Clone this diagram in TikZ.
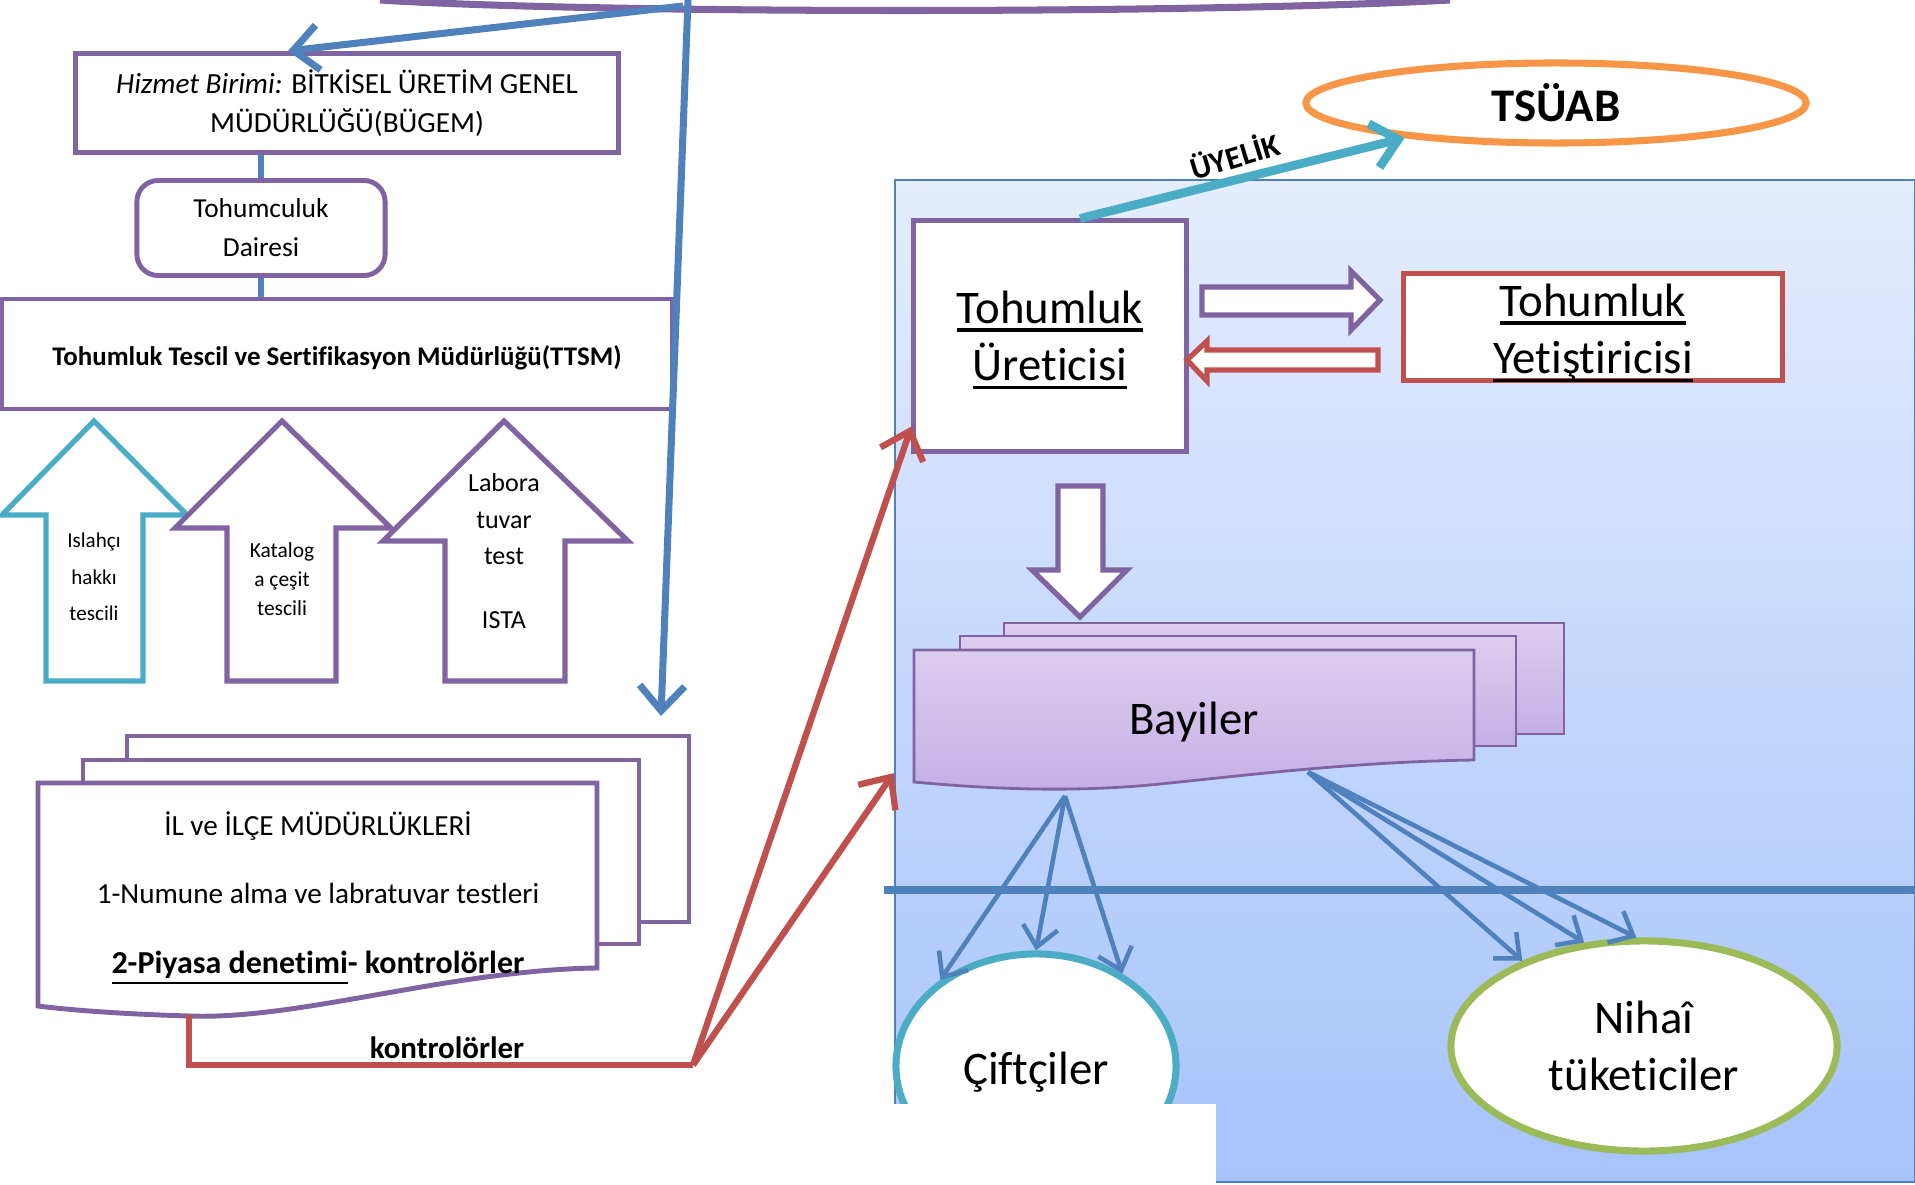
\documentclass[tikz,border=0pt]{standalone}
\usepackage{fontspec}
\setmainfont{Carlito}[Ligatures=CommonOff]
\newcommand{\altciz}[1]{\leavevmode\setbox0=\hbox{#1}\rlap{\rule[-2.4pt]{\wd0}{1pt}}\box0}
\usetikzlibrary{shapes.geometric,arrows.meta}
\definecolor{mor}{HTML}{8064A2}
\definecolor{mavi}{HTML}{4F81BD}
\definecolor{kirmizi}{HTML}{C0504D}
\definecolor{turkuaz}{HTML}{4BACC6}
\definecolor{turuncu}{HTML}{F79646}
\definecolor{yesil}{HTML}{9BBB59}
\definecolor{acikmavi}{HTML}{E4EDFD}
\definecolor{koyumavi}{HTML}{A6C3FB}
\definecolor{acikmor}{HTML}{DCCDEE}
\definecolor{koyumor}{HTML}{C4AFE6}
\begin{document}
\begin{tikzpicture}[x=0.01cm, y=-0.01cm]
		\tikzstyle{kutu}=[draw=mor,line width=1.4pt,fill=white,inner sep=0pt]
		\tikzstyle{kucuk}=[font=\fontsize{8.3}{11.1}\selectfont,align=center]
		\tikzstyle{buyuk}=[font=\fontsize{13.3}{16.3}\selectfont,align=center]
		\tikzstyle{ok}=[line width=2pt,-{Straight Barb[length=2.5mm,width=4.5mm]}]
		\tikzstyle{ince}=[mavi,line width=1.3pt,-{Straight Barb[length=2mm,width=3.5mm]}]
		\tikzstyle{blok}=[line width=1.5pt,fill=white,line join=miter]
		\tikzstyle{bayistil}=[draw=mor,line width=0.8pt,top color=acikmor,bottom color=koyumor]
		\useasboundingbox (0,0) rectangle (1915,1185);
		\draw[mor,line width=2pt] (380,0) .. controls (600,14) and (1200,14) .. (1450,0);
		\node[draw=mavi,line width=0.6pt,top color=acikmavi,bottom color=koyumavi,minimum width=10.2cm,minimum height=10.02cm,inner sep=0pt](alan)at(1405,681){};
		\node[kutu,kucuk,minimum width=5.42cm,minimum height=0.99cm](bugem)at(347,103){\textit{Hizmet Birimi:} BİTKİSEL ÜRETİM GENEL\\MÜDÜRLÜĞÜ(BÜGEM)};
		\node[kutu,kucuk,font=\fontsize{7.8}{11.1}\selectfont,rounded corners=6pt,minimum width=2.48cm,minimum height=0.95cm](daire)at(261,228){Tohumculuk\\Dairesi};
		\node[kutu,minimum width=6.7cm,minimum height=1.1cm,label={[font=\bfseries\fontsize{7.65}{10}\selectfont,yshift=-0.04cm]center:Tohumluk Tescil ve Sertifikasyon Müdürlüğü(TTSM)}](ttsm)at(337,354){};
		\draw[mavi,line width=1.5pt] (bugem.south -| daire.north) -- (daire.north);
		\draw[mavi,line width=1.5pt] (daire.south) -- (daire.south |- ttsm.north);
		\draw[blok,draw=turkuaz] (94,421) -- (187,515) -- (143,515) -- (143,681) -- (46,681) -- (46,515) -- (2,515) -- cycle;
		\draw[blok,draw=mor] (282,421) -- (391,528) -- (336,528) -- (336,681) -- (227,681) -- (227,528) -- (175,528) -- cycle;
		\draw[blok,draw=mor] (504,421) -- (628,541) -- (565,541) -- (565,681) -- (445,681) -- (445,541) -- (383,541) -- cycle;
		\node[align=center,font=\fontsize{6}{10.4}\selectfont](islah)at(94,577){Islahçı\\hakkı\\tescili};
		\node[align=center,font=\fontsize{6.1}{8.3}\selectfont](katalog)at(282,579){Katalog\\a çeşit\\tescili};
		\node[align=center,font=\fontsize{7.4}{10.4}\selectfont](labora)at(504,551){Labora\\tuvar\\test\\[7.7pt]ISTA};
		\draw[kutu] (127,736) rectangle (689,922);
		\draw[kutu] (83,760) rectangle (639,944);
		\draw[kutu] (38,783) -- (597,783) -- (597,968) .. controls (450,970) and (300,1020) .. (190,1016) .. controls (120,1014) and (70,1010) .. (38,1006) -- cycle;
		\node[kucuk](il1)at(318,826){İL ve İLÇE MÜDÜRLÜKLERİ};
		\node[kucuk](il2)at(318,893){1-Numune alma ve labratuvar testleri};
		\node[kucuk,font=\bfseries\fontsize{9.1}{11.1}\selectfont](il3)at(318,968){\underline{2-Piyasa denetimi}- kontrolörler};
		\coordinate (ust) at (688,0);
		\coordinate (catal) at (683,6);
		\coordinate (ilust) at (661,716);
		\coordinate (ilalt) at (189,1015);
		\coordinate (kout) at (693,1065);
		\draw[ok,mavi] (ust) -- (ilust);
		\draw[ok,mavi] (catal) -- ([xshift=-0.59cm]bugem.north);
		\node[font=\bfseries\fontsize{8.8}{10}\selectfont](kontrol)at(447,1048){kontrolörler};
		\node[kutu,minimum width=2.72cm,minimum height=2.3cm,label={[buyuk,yshift=-0.04cm]center:\altciz{Tohumluk}\\\altciz{Üreticisi}}](uret)at(1050,336){};
		\node[kutu,draw=kirmizi,minimum width=3.79cm,minimum height=1.07cm,label={[buyuk,yshift=-0.06cm]center:\altciz{Tohumluk}\\\altciz{Yetiştiricisi}}](yetis)at(1593,327){};
		\node[draw=turuncu,line width=2pt,ellipse,fill=white,inner sep=0pt,minimum width=5cm,minimum height=0.8cm,font=\bfseries\fontsize{13.3}{16}\selectfont](tsuab)at(1556,103){TSÜAB};
		\draw[blok,draw=mor] (1202,287) -- (1351,287) -- (1351,271) -- (1380,300) -- (1351,330) -- (1351,315) -- (1202,315) -- cycle;
		\draw[blok,draw=kirmizi] (1378,350) -- (1207,350) -- (1207,341) -- (1187,360) -- (1207,381) -- (1207,370) -- (1378,370) -- cycle;
		\draw[blok,draw=mor] (1058,486) -- (1103,486) -- (1103,570) -- (1127,570) -- (1080,617) -- (1032,570) -- (1058,570) -- cycle;
		\draw[bayistil] (1004,623) rectangle (1564,734);
		\draw[bayistil] (960,636) rectangle (1516,746);
		\draw[bayistil] (914,650) -- (1474,650) -- (1474,760) .. controls (1350,762) and (1250,775) .. (1150,785) .. controls (1060,793) and (980,788) .. (914,782) -- cycle;
		\node[buyuk](bayi)at(1194,722){Bayiler};
		\node[draw=turkuaz,line width=2pt,ellipse,fill=white,inner sep=0pt,minimum width=2.8cm,minimum height=2.24cm,label={[buyuk,yshift=-0.06cm]center:Çiftçiler}](cift)at(1036,1066){};
		\node[draw=yesil,line width=2pt,ellipse,fill=white,inner sep=0pt,minimum width=3.86cm,minimum height=2.1cm,buyuk](nihai)at(1644,1046){Nihaî\\tüketiciler};
		\coordinate (bay1) at (1065,796);
		\coordinate (bay2) at (1308,772);
		\path[ince] (bay1) edge (cift.138)
		(bay1) edge (cift.90)
		(bay1) edge (cift.47)
		(bay2) edge (nihai.145)
		(bay2) edge (nihai.120)
		(bay2) edge (nihai.94);
		\draw[mavi,line width=2pt] (884,890) -- (1915,890);
		\draw[kirmizi,line width=1.8pt] (ilalt) |- (kout);
		\draw[ok,kirmizi,line width=1.8pt] (kout) -- ([yshift=0.27cm]uret.south west);
		\draw[ok,kirmizi,line width=1.8pt] (kout) -- ([yshift=-0.92cm]alan.west);
		\draw[ok,turkuaz,line width=2.5pt] ([xshift=0.3cm]uret.north) -- (tsuab.193);
		\node[rotate=17,font=\bfseries\fontsize{9}{10}\selectfont](uye)at(1234,155){ÜYELİK};
		\fill[white] (893,1104) rectangle (1216,1186);
\end{tikzpicture}
\end{document}
